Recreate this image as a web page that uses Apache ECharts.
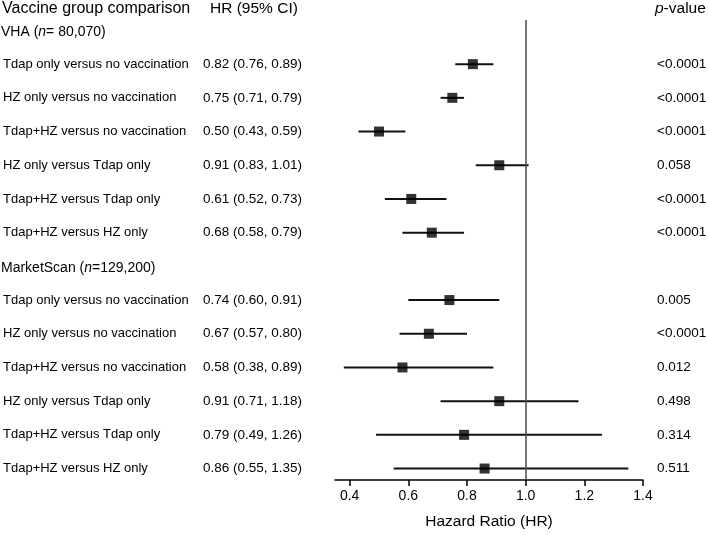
<!DOCTYPE html>
<html>
<head>
<meta charset="utf-8">
<script src="https://cdn.jsdelivr.net/npm/echarts@6/dist/echarts.min.js"></script>
<style>html,body{margin:0;padding:0;background:#fff}#c{width:709px;height:535px}</style>
</head>
<body>
<div id="c"></div>
<script>
var comparisons = ['Tdap only versus no vaccination', 'HZ only versus no vaccination', 'Tdap+HZ versus no vaccination', 'HZ only versus Tdap only', 'Tdap+HZ versus Tdap only', 'Tdap+HZ versus HZ only'];
var vhaHR = [0.82, 0.75, 0.50, 0.91, 0.61, 0.68];
var vhaLo = [0.76, 0.71, 0.43, 0.83, 0.52, 0.58];
var vhaHi = [0.89, 0.79, 0.59, 1.01, 0.73, 0.79];
var vhaP = ['<0.0001', '<0.0001', '<0.0001', '0.058', '<0.0001', '<0.0001'];
var msHR = [0.74, 0.67, 0.58, 0.91, 0.79, 0.86];
var msLo = [0.60, 0.57, 0.38, 0.71, 0.49, 0.55];
var msHi = [0.91, 0.80, 0.89, 1.18, 1.26, 1.35];
var msP = ['0.005', '<0.0001', '0.012', '0.498', '0.314', '0.511'];
var tickValues = [0.4, 0.6, 0.8, 1.0, 1.2, 1.4];
var groups = [
  {name: 'VHA', n: '= 80,070', hr: vhaHR, lo: vhaLo, hi: vhaHi, p: vhaP},
  {name: 'MarketScan', n: '=129,200', hr: msHR, lo: msLo, hi: msHi, p: msP}
];

var rows = [];
var headers = [];
var slot = 0;
groups.forEach(function (g) {
  headers.push({slot: slot, name: g.name, n: g.n});
  slot++;
  for (var i = 0; i < comparisons.length; i++) {
    rows.push({slot: slot, hr: g.hr[i], lo: g.lo[i], hi: g.hi[i], p: g.p[i], label: comparisons[i]});
    slot++;
  }
});

var FONT = 'Liberation Sans, Arial, sans-serif';
var chart = echarts.init(document.getElementById('c'), null, {renderer: 'canvas'});
var option = {
  animation: false,
  backgroundColor: '#fff',
  grid: {left: 335, right: 66, top: 20, bottom: 55},
  xAxis: {
    type: 'value', min: 0.35, max: 1.4, position: 'bottom',
    splitLine: {show: false},
    axisLine: {show: true, onZero: false, lineStyle: {color: '#000', width: 1.5}},
    axisTick: {show: true, length: 6, inside: false, customValues: tickValues, lineStyle: {color: '#000', width: 1.5}},
    axisLabel: {customValues: tickValues, margin: 9, color: '#000', fontSize: 14, fontFamily: FONT,
      formatter: function (v) { return v.toFixed(1); }},
    name: 'Hazard Ratio (HR)', nameLocation: 'middle', nameGap: 34,
    nameTextStyle: {color: '#000', fontSize: 15.5, fontFamily: FONT}
  },
  yAxis: {type: 'value', min: -0.31, max: 13.34, inverse: true, show: false},
  graphic: [
    {type: 'text', left: 2, top: 1, style: {text: 'Vaccine group comparison', fontSize: 16, fontFamily: FONT, fill: '#000'}},
    {type: 'text', left: 210, top: 1, style: {text: 'HR (95% CI)', fontSize: 15.5, fontFamily: FONT, fill: '#000'}},
    {type: 'text', left: 655, top: 1, style: {text: '{i|p}-value', fontSize: 15.5, fontFamily: FONT, fill: '#000',
      rich: {i: {fontStyle: 'italic', fontSize: 15.5, fontFamily: FONT, fill: '#000'}}}}
  ],
  series: [
    {
      type: 'custom',
      name: 'ci',
      silent: true,
      data: rows.map(function (r) { return [r.lo, r.hi, r.slot]; }),
      encode: {x: [0, 1], y: 2},
      renderItem: function (params, api) {
        var a = api.coord([api.value(0), api.value(2)]);
        var b = api.coord([api.value(1), api.value(2)]);
        return {type: 'line', shape: {x1: a[0], y1: a[1], x2: b[0], y2: b[1]},
          style: {stroke: '#111', lineWidth: 2}};
      },
      z: 2
    },
    {
      type: 'scatter',
      name: 'hr',
      symbol: 'rect',
      symbolSize: 10,
      itemStyle: {color: '#000'},
      data: rows.map(function (r) { return [r.hr, r.slot]; }),
      markLine: {
        silent: true, symbol: 'none', label: {show: false},
        lineStyle: {color: '#4a4a4a', width: 1.5, type: 'solid'},
        data: [{xAxis: 1.0}]
      },
      z: 3
    },
    {
      type: 'custom',
      name: 'rowText',
      silent: true,
      data: rows.map(function (r, i) { return [0.35, r.slot, i]; }),
      renderItem: function (params, api) {
        var r = rows[api.value(2)];
        var y = api.coord([0.35, api.value(1)])[1];
        return {type: 'group', children: [
          {type: 'text', x: 3, y: y, style: {text: r.label, fontSize: 13, fontFamily: FONT, fill: '#000', verticalAlign: 'middle'}},
          {type: 'text', x: 203, y: y, style: {text: r.hr.toFixed(2) + ' (' + r.lo.toFixed(2) + ', ' + r.hi.toFixed(2) + ')', fontSize: 13.5, fontFamily: FONT, fill: '#000', verticalAlign: 'middle'}},
          {type: 'text', x: 657, y: y, style: {text: r.p, fontSize: 13.5, fontFamily: FONT, fill: '#000', verticalAlign: 'middle'}}
        ]};
      }
    },
    {
      type: 'custom',
      name: 'headerText',
      silent: true,
      data: headers.map(function (h, i) { return [0.35, h.slot, i]; }),
      renderItem: function (params, api) {
        var h = headers[api.value(2)];
        var y = api.coord([0.35, api.value(1)])[1] + 1.5;
        return {type: 'text', x: 1, y: y, style: {
          text: h.name + ' ({i|n}' + h.n + ')', fontSize: 14, fontFamily: FONT, fill: '#000', verticalAlign: 'middle',
          rich: {i: {fontStyle: 'italic', fontSize: 14, fontFamily: FONT, fill: '#000'}}}};
      }
    }
  ]
};
chart.setOption(option);
</script>
</body>
</html>
